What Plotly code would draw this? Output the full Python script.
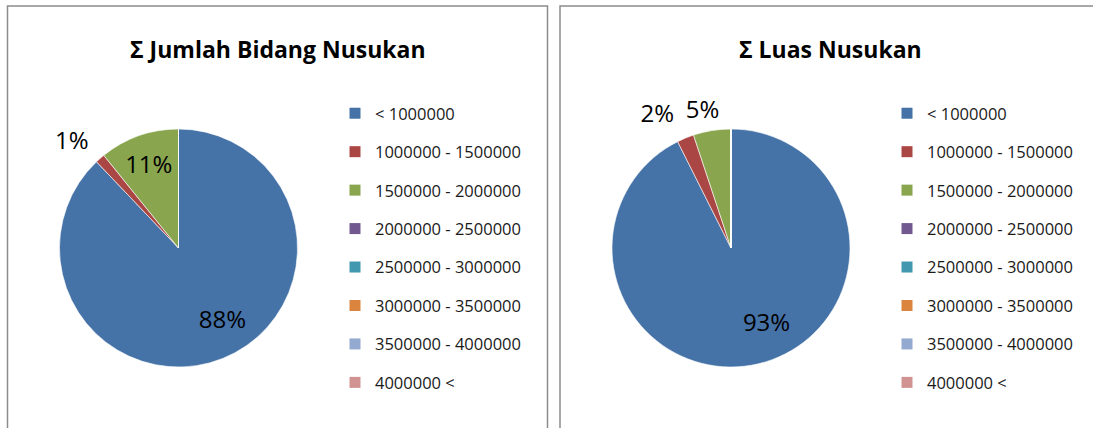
import plotly.graph_objects as go

# ---------------- data ----------------
categories = ["< 1000000", "1000000 - 1500000", "1500000 - 2000000", "2000000 - 2500000",
              "2500000 - 3000000", "3000000 - 3500000", "3500000 - 4000000", "4000000 <"]
jumlah_bidang = [87.9, 1.3, 10.8, 0, 0, 0, 0, 0]   # % share
luas = [92.6, 2.3, 5.1, 0, 0, 0, 0, 0]             # % share
colors = ["#4572A7", "#AA4643", "#89A54E", "#71588F", "#4198AF", "#DB843D", "#93A9CF", "#D19392"]
titles = ["Σ Jumlah Bidang Nusukan", "Σ Luas Nusukan"]

W, H = 1093, 428
FONT = "Open Sans"
NB = "\u00a0"
PCT = "%{percent:.0%}"


def px_x(v):
    return v / W


def px_y(v):
    return 1 - v / H


def dom(cx, cy, r):
    return dict(x=[px_x(cx - r), px_x(cx + r)], y=[px_y(cy + r), px_y(cy - r)])


fig = go.Figure()

R = 119
big_tpl = NB + "<br>" + NB * 7 + PCT          # nudges the big-slice label like Excel's placement
small_up = "<span style='font-size:24px'>" + PCT + "</span><br>" + NB   # lifts outside label a bit

pie_common = dict(labels=categories, sort=False, direction="clockwise",
                  insidetextorientation="horizontal")

# left pie
fig.add_trace(go.Pie(
    values=jumlah_bidang, domain=dom(178.5, 248, R), rotation=0,
    marker=dict(colors=colors, line=dict(color="white", width=0.6)),
    texttemplate=[big_tpl, small_up, PCT] + [""] * 5,
    textposition=["inside", "outside", "inside"] + ["none"] * 5,
    textfont=dict(family=FONT, size=[24, 12, 24] + [24] * 5, color="black"),
    showlegend=False, hoverinfo="label+percent", **pie_common))

# right pie
fig.add_trace(go.Pie(
    values=luas, domain=dom(731, 248, R), rotation=0,
    marker=dict(colors=colors, line=dict(color="white", width=0.6)),
    texttemplate=[big_tpl, small_up, PCT] + [""] * 5,
    textposition=["inside", "outside", "none"] + ["none"] * 5,
    textfont=dict(family=FONT, size=[24, 12, 24] + [24] * 5, color="black"),
    showlegend=False, hoverinfo="label+percent", **pie_common))
# transparent twin of the right pie carrying only the 5% label (keeps it beside the 2% label,
# as Excel does, instead of stacking it with a leader line)
fig.add_trace(go.Pie(
    values=luas, domain=dom(731, 248, R), rotation=8,
    marker=dict(colors=["rgba(0,0,0,0)"] * 8, line=dict(width=0)),
    texttemplate=["", "", small_up] + [""] * 5,
    textposition=["none", "none", "outside"] + ["none"] * 5,
    textfont=dict(family=FONT, size=[24, 24, 7] + [24] * 5, color="black"),
    showlegend=False, hoverinfo="skip", **pie_common))

# legends (one per panel)
for lname in ["legend", "legend2"]:
    for i, (cat, col) in enumerate(zip(categories, colors)):
        fig.add_trace(go.Scatter(
            x=[None], y=[None], mode="markers", name=cat,
            marker=dict(symbol="square", size=11, color=col),
            legend=lname, legendgroup=f"{lname}-{i}", showlegend=True,
        ))

legend_common = dict(
    font=dict(family=FONT, size=16.5, color="#1a1a1a"),
    bgcolor="rgba(0,0,0,0)", borderwidth=0, tracegroupgap=14.0,
    xanchor="left", yanchor="top", orientation="v", itemclick=False, itemdoubleclick=False,
)

# panel frames
shapes = []
for x0, x1 in [(7.5, 547.5), (560, 1110)]:
    shapes.append(dict(type="rect", xref="paper", yref="paper",
                       x0=px_x(x0), x1=px_x(x1), y0=px_y(6), y1=px_y(460),
                       line=dict(color="#8c8c8c", width=1.5), fillcolor="rgba(0,0,0,0)",
                       layer="below"))

annotations = []
for tx, t in zip([277.5, 830], titles):
    annotations.append(dict(text=f"<b>{t}</b>", x=px_x(tx), y=px_y(49), xref="paper", yref="paper",
                            xanchor="center", yanchor="middle", showarrow=False,
                            font=dict(family=FONT, size=23, color="black")))

fig.update_layout(
    width=W, height=H, margin=dict(l=0, r=0, t=0, b=0),
    paper_bgcolor="white", plot_bgcolor="white",
    xaxis=dict(visible=False), yaxis=dict(visible=False),
    legend=dict(x=px_x(335), y=px_y(96), **legend_common),
    legend2=dict(x=px_x(887), y=px_y(96), **legend_common),
    shapes=shapes, annotations=annotations,
    font=dict(family=FONT),
)

fig.write_html("out.html", config={"displayModeBar": False},
               post_script="document.body.style.margin='0';document.body.style.overflow='hidden';")
